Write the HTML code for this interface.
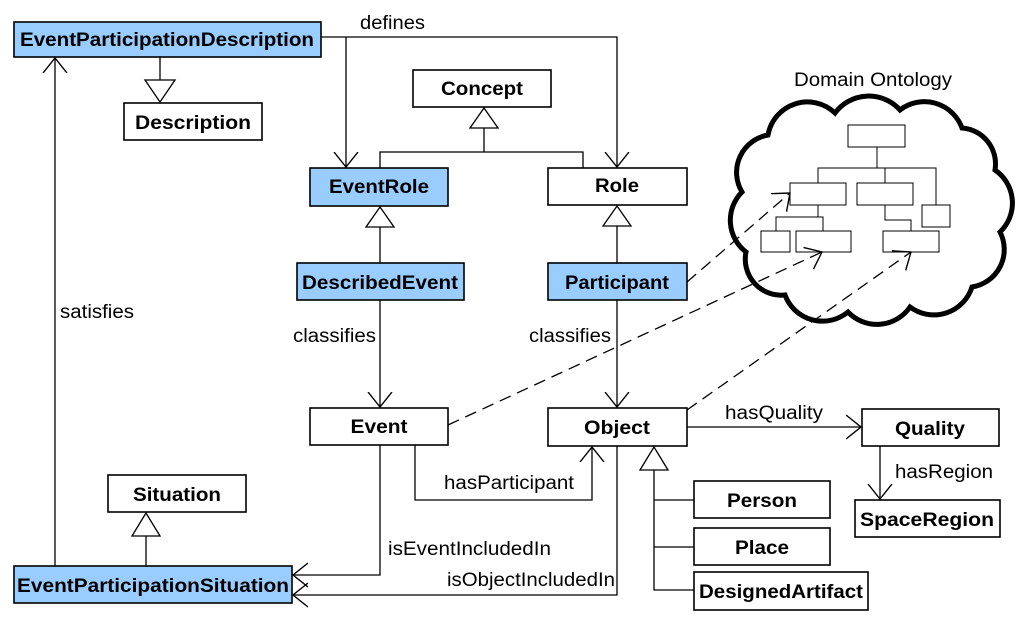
<!DOCTYPE html>
<html><head><meta charset="utf-8"><style>
html,body{margin:0;padding:0;background:#fff}
svg{display:block}
text{font-family:"Liberation Sans",Arial,sans-serif;font-size:19px;fill:#000}
.b{font-weight:bold;text-anchor:middle;font-size:19px}
</style></head><body>
<svg width="1028" height="634" viewBox="0 0 1028 634" xmlns="http://www.w3.org/2000/svg">
<defs>
<marker id="oa" markerWidth="16" markerHeight="26" refX="15" refY="13" orient="auto" markerUnits="userSpaceOnUse">
<path d="M0,1 L15,13 L0,25" fill="none" stroke="#000" stroke-width="1.4"/></marker>
</defs>
<g fill="none" stroke="#000" stroke-width="1.3">
<polyline points="321,37 617,37 617,167" marker-end="url(#oa)"/>
<line x1="346" y1="37" x2="346" y2="167" marker-end="url(#oa)"/>
<line x1="160" y1="57" x2="160" y2="80"/>
<polygon points="145,80 175,80 160,102" fill="#fff"/>
<polygon points="484,108 470,128 498,128" fill="#fff"/>
<polyline points="484,128 484,152"/>
<polyline points="380,168 380,152 583,152 583,168"/>
<polygon points="380,207 366,227 394,227" fill="#fff"/>
<line x1="380" y1="227" x2="380" y2="263"/>
<polygon points="617,206 603,226 631,226" fill="#fff"/>
<line x1="617" y1="226" x2="617" y2="263"/>
<line x1="380" y1="300" x2="380" y2="407" marker-end="url(#oa)"/>
<line x1="617" y1="300" x2="617" y2="407" marker-end="url(#oa)"/>
<polyline points="415,445 415,500 592,500 592,447" marker-end="url(#oa)"/>
<polyline points="380,445 380,575 293,575" marker-end="url(#oa)"/>
<polyline points="617,446 617,595 293,595" marker-end="url(#oa)"/>
<polygon points="654,447 640,470 668,470" fill="#fff"/>
<polyline points="654,470 654,590 694,590"/>
<line x1="654" y1="500" x2="694" y2="500"/>
<line x1="654" y1="547" x2="694" y2="547"/>
<line x1="687" y1="427" x2="861" y2="427" marker-end="url(#oa)"/>
<line x1="880" y1="446" x2="880" y2="499" marker-end="url(#oa)"/>
<polygon points="146,513 132,536 160,536" fill="#fff"/>
<line x1="146" y1="536" x2="146" y2="566"/>
<line x1="55" y1="566" x2="55" y2="58" marker-end="url(#oa)"/>
<line x1="687" y1="282" x2="790" y2="193" stroke-dasharray="12,7" marker-end="url(#oa)"/>
<line x1="448" y1="425" x2="822" y2="252" stroke-dasharray="12,7" marker-end="url(#oa)"/>
<line x1="687" y1="410" x2="911" y2="252" stroke-dasharray="12,7" marker-end="url(#oa)"/>
<path d="M768,135 A40,40 0 0 1 835,113 A42,42 0 0 1 900,110 A40,40 0 0 1 962,128 A36,36 0 0 1 995,170 A40,40 0 0 1 1000,232 A38,38 0 0 1 972,287 A40,40 0 0 1 910,307 A40,40 0 0 1 848,312 A40,40 0 0 1 785,295 A36,36 0 0 1 746,252 A40,40 0 0 1 742,192 A38,38 0 0 1 768,135 Z" stroke-width="5"/>
<g stroke-width="1">
<rect x="848" y="125" width="57" height="22"/>
<polyline points="877,147 877,168"/>
<polyline points="818,183 818,168 936,168 936,205"/>
<line x1="885" y1="168" x2="885" y2="183"/>
<rect x="790" y="183" width="56" height="22"/>
<rect x="857" y="183" width="56" height="22"/>
<rect x="922" y="205" width="28" height="22"/>
<rect x="761" y="231" width="29" height="21"/>
<rect x="796" y="231" width="55" height="21"/>
<rect x="883" y="231" width="56" height="21"/>
<polyline points="776,231 776,217 823,217 823,231"/>
<line x1="818" y1="205" x2="818" y2="217"/>
<polyline points="885,205 885,220 911,220 911,231"/>
</g>
</g>
<g stroke="#000" stroke-width="1.6">
<rect x="14" y="22" width="307" height="35" fill="#99ccff"/>
<rect x="124" y="103" width="138" height="37" fill="#fff"/>
<rect x="413" y="70" width="138" height="37" fill="#fff"/>
<rect x="310" y="168" width="138" height="38" fill="#99ccff"/>
<rect x="548" y="168" width="139" height="37" fill="#fff"/>
<rect x="297" y="263" width="167" height="37" fill="#99ccff"/>
<rect x="548" y="263" width="139" height="37" fill="#99ccff"/>
<rect x="310" y="408" width="138" height="37" fill="#fff"/>
<rect x="548" y="408" width="139" height="38" fill="#fff"/>
<rect x="862" y="409" width="137" height="37" fill="#fff"/>
<rect x="855" y="500" width="145" height="37" fill="#fff"/>
<rect x="108" y="475" width="138" height="37" fill="#fff"/>
<rect x="14" y="566" width="278" height="37" fill="#99ccff"/>
<rect x="694" y="481" width="136" height="37" fill="#fff"/>
<rect x="694" y="528" width="136" height="37" fill="#fff"/>
<rect x="694" y="572" width="174" height="38" fill="#fff"/>
</g>
<text class="b" x="167" y="46" textLength="294" lengthAdjust="spacingAndGlyphs">EventParticipationDescription</text>
<text class="b" x="193" y="129" textLength="116" lengthAdjust="spacingAndGlyphs">Description</text>
<text class="b" x="482" y="95" textLength="82" lengthAdjust="spacingAndGlyphs">Concept</text>
<text class="b" x="379" y="193" textLength="100" lengthAdjust="spacingAndGlyphs">EventRole</text>
<text class="b" x="617" y="192" textLength="44" lengthAdjust="spacingAndGlyphs">Role</text>
<text class="b" x="380" y="289" textLength="156" lengthAdjust="spacingAndGlyphs">DescribedEvent</text>
<text class="b" x="617" y="289" textLength="104" lengthAdjust="spacingAndGlyphs">Participant</text>
<text class="b" x="379" y="433" textLength="57" lengthAdjust="spacingAndGlyphs">Event</text>
<text class="b" x="617" y="434" textLength="66" lengthAdjust="spacingAndGlyphs">Object</text>
<text class="b" x="930" y="435" textLength="70" lengthAdjust="spacingAndGlyphs">Quality</text>
<text class="b" x="927" y="526" textLength="134" lengthAdjust="spacingAndGlyphs">SpaceRegion</text>
<text class="b" x="177" y="501" textLength="88" lengthAdjust="spacingAndGlyphs">Situation</text>
<text class="b" x="153" y="592" textLength="272" lengthAdjust="spacingAndGlyphs">EventParticipationSituation</text>
<text class="b" x="762" y="507" textLength="70" lengthAdjust="spacingAndGlyphs">Person</text>
<text class="b" x="762" y="554" textLength="54" lengthAdjust="spacingAndGlyphs">Place</text>
<text class="b" x="781" y="598" textLength="164" lengthAdjust="spacingAndGlyphs">DesignedArtifact</text>
<text x="360" y="29" textLength="65" lengthAdjust="spacingAndGlyphs">defines</text>
<text x="794" y="86" textLength="158" lengthAdjust="spacingAndGlyphs">Domain Ontology</text>
<text x="60" y="318" textLength="74" lengthAdjust="spacingAndGlyphs">satisfies</text>
<text x="293" y="342" textLength="83" lengthAdjust="spacingAndGlyphs">classifies</text>
<text x="529" y="342" textLength="82" lengthAdjust="spacingAndGlyphs">classifies</text>
<text x="444" y="489" textLength="130" lengthAdjust="spacingAndGlyphs">hasParticipant</text>
<text x="388" y="555" textLength="163" lengthAdjust="spacingAndGlyphs">isEventIncludedIn</text>
<text x="447" y="586" textLength="168" lengthAdjust="spacingAndGlyphs">isObjectIncludedIn</text>
<text x="725" y="419" textLength="98" lengthAdjust="spacingAndGlyphs">hasQuality</text>
<text x="895" y="478" textLength="98" lengthAdjust="spacingAndGlyphs">hasRegion</text>
</svg>
</body></html>
